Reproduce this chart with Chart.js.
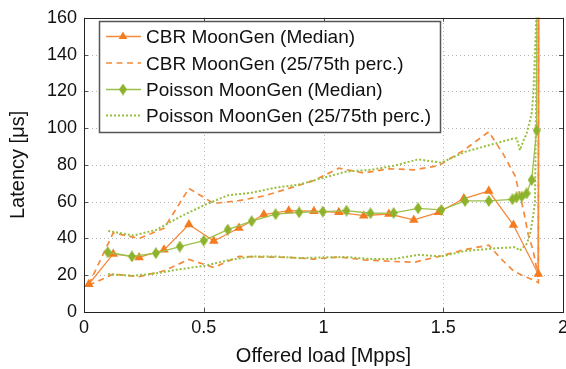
<!DOCTYPE html>
<html>
<head>
<meta charset="utf-8">
<script src="https://cdn.jsdelivr.net/npm/chart.js@4.4.0/dist/chart.umd.min.js"></script>
<style>
html, body { margin: 0; padding: 0; background: #fff; overflow: hidden; }
#wrap { width: 566px; height: 369px; overflow: hidden; }
canvas { display: block; }
</style>
</head>
<body>
<div id="wrap"><canvas id="latency" width="578" height="369" style="width:578px;height:369px"></canvas></div>
<script>
// offered load [Mpps] and latency [us]
var cbrMedianX = [0.02, 0.122, 0.23, 0.334, 0.438, 0.542, 0.647, 0.751, 0.855, 0.96, 1.064, 1.168, 1.273, 1.377, 1.481, 1.586, 1.69, 1.793, 1.897, 1.9];
var cbrMedian  = [15.1, 31.6, 29.7, 33.8, 47.6, 38.6, 45.7, 53, 55.1, 54.8, 54.2, 52.4, 53.3, 50.1, 54.2, 61.7, 65.8, 47.3, 20.6, 400];

var cbrP75X = [0.02, 0.122, 0.23, 0.334, 0.438, 0.542, 0.647, 0.751, 0.855, 0.96, 1.064, 1.168, 1.273, 1.377, 1.481, 1.586, 1.69, 1.75, 1.8, 1.834, 1.855, 1.876, 1.897, 1.9];
var cbrP75  = [15, 43, 40, 45.5, 67.2, 59, 60.6, 63.1, 67.2, 71.5, 78.2, 75.6, 77.9, 77.3, 79.6, 88, 98, 86, 74, 56, 42, 33, 19, 400];

var cbrP25X = [0.02, 0.122, 0.23, 0.334, 0.438, 0.542, 0.647, 0.751, 0.855, 0.96, 1.064, 1.168, 1.273, 1.377, 1.481, 1.586, 1.69, 1.737, 1.793, 1.834, 1.883, 1.897, 1.9];
var cbrP25  = [14.5, 20.6, 19.2, 22.4, 28.6, 24.2, 30.2, 29.9, 29.7, 28.8, 29.9, 28.4, 27.6, 27, 30.2, 33.8, 36.4, 29.5, 22.4, 19.7, 17, 16, 400];

var poiMedianX = [0.099, 0.2, 0.3, 0.4, 0.5, 0.6, 0.7, 0.8, 0.898, 0.997, 1.096, 1.196, 1.293, 1.395, 1.492, 1.591, 1.69, 1.789, 1.806, 1.828, 1.848, 1.869, 1.89, 1.892];
var poiMedian  = [32.5, 30.2, 32, 35.6, 38.8, 44.8, 49.4, 53.2, 54.2, 54.6, 55.1, 53.7, 53.9, 56.4, 55.5, 60.4, 60.4, 61.3, 62.4, 62.8, 64.5, 71.8, 98.8, 400];

var poiP75X = [0.101, 0.206, 0.3, 0.4, 0.5, 0.6, 0.7, 0.8, 0.898, 0.997, 1.096, 1.196, 1.293, 1.395, 1.492, 1.591, 1.69, 1.789, 1.807, 1.82, 1.834, 1.848, 1.869, 1.876, 1.89];
var poiP75  = [44.1, 41.6, 44.6, 51.7, 58, 63.4, 64.9, 67.6, 69.3, 72.9, 76.4, 77.3, 79.5, 83, 81.2, 87.1, 90.7, 94.2, 94.4, 88, 93, 97, 107.7, 118, 165];

var poiP25X = [0.101, 0.206, 0.3, 0.4, 0.5, 0.6, 0.7, 0.8, 0.898, 0.997, 1.096, 1.196, 1.293, 1.395, 1.492, 1.591, 1.69, 1.737, 1.8, 1.82, 1.848, 1.862, 1.876, 1.883, 1.892];
var poiP25  = [20.6, 19.7, 21, 23.3, 25, 28.1, 30.2, 30.2, 29.3, 29.7, 29.9, 28.8, 28.8, 31.1, 30.2, 33.2, 34.3, 34.8, 35.2, 33.4, 37, 42, 52.6, 59.7, 170];

var legendLabels = ["CBR MoonGen (Median)", "CBR MoonGen (25/75th perc.)", "Poisson MoonGen (Median)", "Poisson MoonGen (25/75th perc.)"];

var orange = '#f47b20';
var orangeLine = '#f58a3c';
var green = '#8db32c';
var greenLine = '#9dc04a';
var dotGreen = '#98bf3c';
var fontFamily = '"Liberation Sans", Arial, Helvetica, sans-serif';

function pts(xs, ys) {
    return xs.map(function (x, i) { return {x: x, y: ys[i]}; });
}

// elongated diamond marker
var diamond = document.createElement('canvas');
diamond.width = 8;
diamond.height = 12;
(function () {
    var c = diamond.getContext('2d');
    c.fillStyle = green;
    c.beginPath();
    c.moveTo(4, 0);
    c.lineTo(8, 6);
    c.lineTo(4, 12);
    c.lineTo(0, 6);
    c.closePath();
    c.fill();
})();

// dotted grid, inner tick marks and the box around the plot
var frame = {
    id: 'frame',
    beforeDatasetsDraw: function (chart) {
        var a = chart.chartArea, ctx = chart.ctx;
        var xs = chart.scales.x, ys = chart.scales.y;
        ctx.save();
        ctx.strokeStyle = '#b4b4b4';
        ctx.lineWidth = 1;
        ctx.setLineDash([1, 3]);
        ctx.beginPath();
        xs.ticks.forEach(function (t) {
            if (t.value <= xs.min || t.value >= xs.max) return;
            var px = Math.round(xs.getPixelForValue(t.value)) + 0.5;
            ctx.moveTo(px, a.bottom); ctx.lineTo(px, a.top);
        });
        ys.ticks.forEach(function (t) {
            if (t.value <= ys.min || t.value >= ys.max) return;
            var py = Math.round(ys.getPixelForValue(t.value)) + 0.5;
            ctx.moveTo(a.left, py); ctx.lineTo(a.right, py);
        });
        ctx.stroke();
        ctx.restore();
    },
    afterDatasetsDraw: function (chart) {
        var a = chart.chartArea, ctx = chart.ctx;
        var xs = chart.scales.x, ys = chart.scales.y;
        ctx.save();
        ctx.strokeStyle = '#555';
        ctx.lineWidth = 1;
        ctx.beginPath();
        xs.ticks.forEach(function (t) {
            var px = Math.round(xs.getPixelForValue(t.value)) + 0.5;
            ctx.moveTo(px, a.bottom); ctx.lineTo(px, a.bottom - 4);
            ctx.moveTo(px, a.top); ctx.lineTo(px, a.top + 4);
        });
        ys.ticks.forEach(function (t) {
            var py = Math.round(ys.getPixelForValue(t.value)) + 0.5;
            ctx.moveTo(a.left, py); ctx.lineTo(a.left + 4, py);
            ctx.moveTo(a.right, py); ctx.lineTo(a.right - 4, py);
        });
        ctx.stroke();
        ctx.strokeStyle = '#222';
        ctx.strokeRect(Math.round(a.left) + 0.5, Math.round(a.top) + 0.5,
            Math.round(a.right - a.left), Math.round(a.bottom - a.top));
        ctx.restore();
    }
};

var boxLegend = {
    id: 'boxLegend',
    afterDraw: function (chart) {
        var ctx = chart.ctx;
        var bx = 99.5, by = 21.5, bw = 341, bh = 111;
        var rows = [36.5, 63, 89.5, 115.5];
        var styles = [
            {color: orangeLine, dash: [], width: 1.3, marker: 'triangle'},
            {color: orangeLine, dash: [6, 4.5], width: 1.7},
            {color: greenLine, dash: [], width: 1.3, marker: 'diamond'},
            {color: dotGreen, dash: [2, 2], width: 2}
        ];
        ctx.save();
        ctx.fillStyle = '#fff';
        ctx.fillRect(bx, by, bw, bh);
        ctx.strokeStyle = '#555';
        ctx.lineWidth = 1.5;
        ctx.strokeRect(bx, by, bw, bh);
        rows.forEach(function (ry, i) {
            var s = styles[i];
            ctx.save();
            ctx.strokeStyle = s.color;
            ctx.lineWidth = s.width;
            ctx.setLineDash(s.dash);
            ctx.beginPath();
            ctx.moveTo(106, ry);
            ctx.lineTo(141, ry);
            ctx.stroke();
            ctx.restore();
            if (s.marker === 'triangle') {
                ctx.fillStyle = orange;
                Chart.helpers.drawPoint(ctx, {pointStyle: 'triangle', radius: 5, rotation: 0, borderWidth: 0}, 123, ry);
            } else if (s.marker === 'diamond') {
                ctx.drawImage(diamond, 123 - 4, ry - 6);
            }
            ctx.fillStyle = '#111';
            ctx.font = '19px ' + fontFamily;
            ctx.textBaseline = 'alphabetic';
            ctx.fillText(legendLabels[i], 146, ry + 6.8);
        });
        ctx.restore();
    }
};

new Chart(document.getElementById('latency'), {
    type: 'line',
    data: {
        datasets: [{
            label: legendLabels[0],
            data: pts(cbrMedianX, cbrMedian),
            borderColor: orangeLine,
            borderWidth: 1.3,
            pointStyle: 'triangle',
            pointRadius: 5.5,
            pointBorderWidth: 0,
            pointBackgroundColor: orange,
            order: 2
        }, {
            label: legendLabels[1],
            data: pts(cbrP75X, cbrP75),
            borderColor: orangeLine,
            borderWidth: 1.7,
            borderDash: [6, 4.5],
            pointRadius: 0,
            order: 4
        }, {
            label: legendLabels[1],
            data: pts(cbrP25X, cbrP25),
            borderColor: orangeLine,
            borderWidth: 1.7,
            borderDash: [6, 4.5],
            pointRadius: 0,
            order: 4
        }, {
            label: legendLabels[2],
            data: pts(poiMedianX, poiMedian),
            borderColor: greenLine,
            borderWidth: 1.3,
            pointStyle: diamond,
            pointRadius: 5,
            pointBorderWidth: 0,
            order: 1
        }, {
            label: legendLabels[3],
            data: pts(poiP75X, poiP75),
            borderColor: dotGreen,
            borderWidth: 2,
            borderDash: [2, 2],
            pointRadius: 0,
            order: 3
        }, {
            label: legendLabels[3],
            data: pts(poiP25X, poiP25),
            borderColor: dotGreen,
            borderWidth: 2,
            borderDash: [2, 2],
            pointRadius: 0,
            order: 3
        }]
    },
    options: {
        responsive: false,
        animation: false,
        clip: 0,
        layout: {
            padding: {top: 11, right: 15, left: 0, bottom: 0}
        },
        elements: {
            line: {tension: 0}
        },
        plugins: {
            legend: {display: false},
            tooltip: {enabled: false}
        },
        scales: {
            x: {
                type: 'linear',
                min: 0,
                max: 2,
                afterFit: function (scale) { scale.height = 57; },
                ticks: {
                    stepSize: 0.5,
                    color: '#111',
                    padding: 5,
                    maxRotation: 0,
                    font: {family: fontFamily, size: 18},
                    callback: function (v) { return String(v); }
                },
                grid: {display: false, drawTicks: false},
                border: {display: false},
                title: {
                    display: true,
                    text: 'Offered load [Mpps]',
                    color: '#111',
                    padding: {top: 0, bottom: 1},
                    font: {family: fontFamily, size: 20}
                }
            },
            y: {
                min: 0,
                max: 160,
                afterFit: function (scale) { scale.width = 84; },
                ticks: {
                    stepSize: 20,
                    color: '#111',
                    padding: 7,
                    font: {family: fontFamily, size: 18}
                },
                grid: {display: false, drawTicks: false},
                border: {display: false},
                title: {
                    display: true,
                    text: 'Latency [μs]',
                    color: '#111',
                    padding: {top: 6, bottom: 0},
                    font: {family: fontFamily, size: 20}
                }
            }
        }
    },
    plugins: [frame, boxLegend]
});
</script>
</body>
</html>
